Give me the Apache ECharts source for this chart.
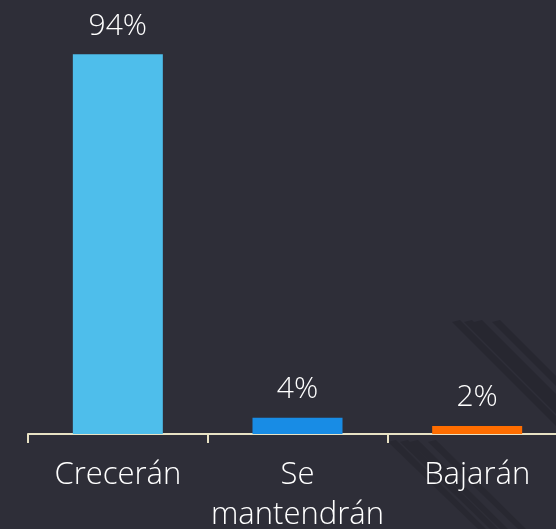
<!DOCTYPE html>
<html lang="es">
<head>
    <meta charset="UTF-8">
    <title>Expectativas</title>
    <script src="https://cdn.jsdelivr.net/npm/echarts@6/dist/echarts.min.js"></script>
</head>
<style type="text/css">
    html, body { margin: 0; padding: 0; background: #2e2e38; }
    #main { width: 556px; height: 529px; }
</style>
<body>
<div id="main"></div>
<script type="text/javascript">
    var categories = ['Crecerán', 'Se\nmantendrán', 'Bajarán'];
    var values = [94, 4, 2];
    var barColors = ['#4ebeeb', '#188ce5', '#ff6d00'];

    var myChart = echarts.init(document.getElementById('main'));

    // franjas decorativas (abajo a la derecha)
    var stripes = [];
    var offs = [0, 12, 22, 40];
    for (var i = 0; i < offs.length; i++) {
        var o = offs[i];
        stripes.push({
            type: 'polygon', silent: true, z: -1,
            shape: {points: [[452 + o, 322], [460 + o, 320], [620 + o, 480], [612 + o, 482]]},
            style: {fill: 'rgba(22,22,28,0.28)'}
        });
        stripes.push({
            type: 'polygon', silent: true, z: -1,
            shape: {points: [[388 + o, 442], [396 + o, 440], [486 + o, 529], [478 + o, 529]]},
            style: {fill: 'rgba(22,22,28,0.25)'}
        });
    }

    var option = {
        backgroundColor: '#2e2e38',
        animation: false,
        graphic: stripes,
        grid: {left: 28, width: 539, top: 30, bottom: 95, outerBoundsMode: 'none', containLabel: false},
        xAxis: {
            type: 'category',
            data: categories,
            axisLine: {lineStyle: {color: '#e8e2c4', width: 2}},
            axisTick: {show: true, length: 9, lineStyle: {color: '#e8e2c4', width: 2}},
            axisLabel: {color: '#ffffff', fontSize: 31, fontWeight: 300, fontFamily: 'Open Sans', lineHeight: 40, margin: 21, interval: 0}
        },
        yAxis: {
            type: 'value', min: 0, max: 100, show: false
        },
        series: [{
            type: 'bar',
            barWidth: 90,
            data: values.map(function (v, i) {
                return {value: v, itemStyle: {color: barColors[i]}};
            }),
            label: {
                show: true, position: 'top', distance: 13,
                formatter: '{c}%', color: '#ffffff', fontSize: 30, fontWeight: 300, fontFamily: 'Open Sans'
            }
        }]
    };
    myChart.setOption(option);
</script>
</body>
</html>
